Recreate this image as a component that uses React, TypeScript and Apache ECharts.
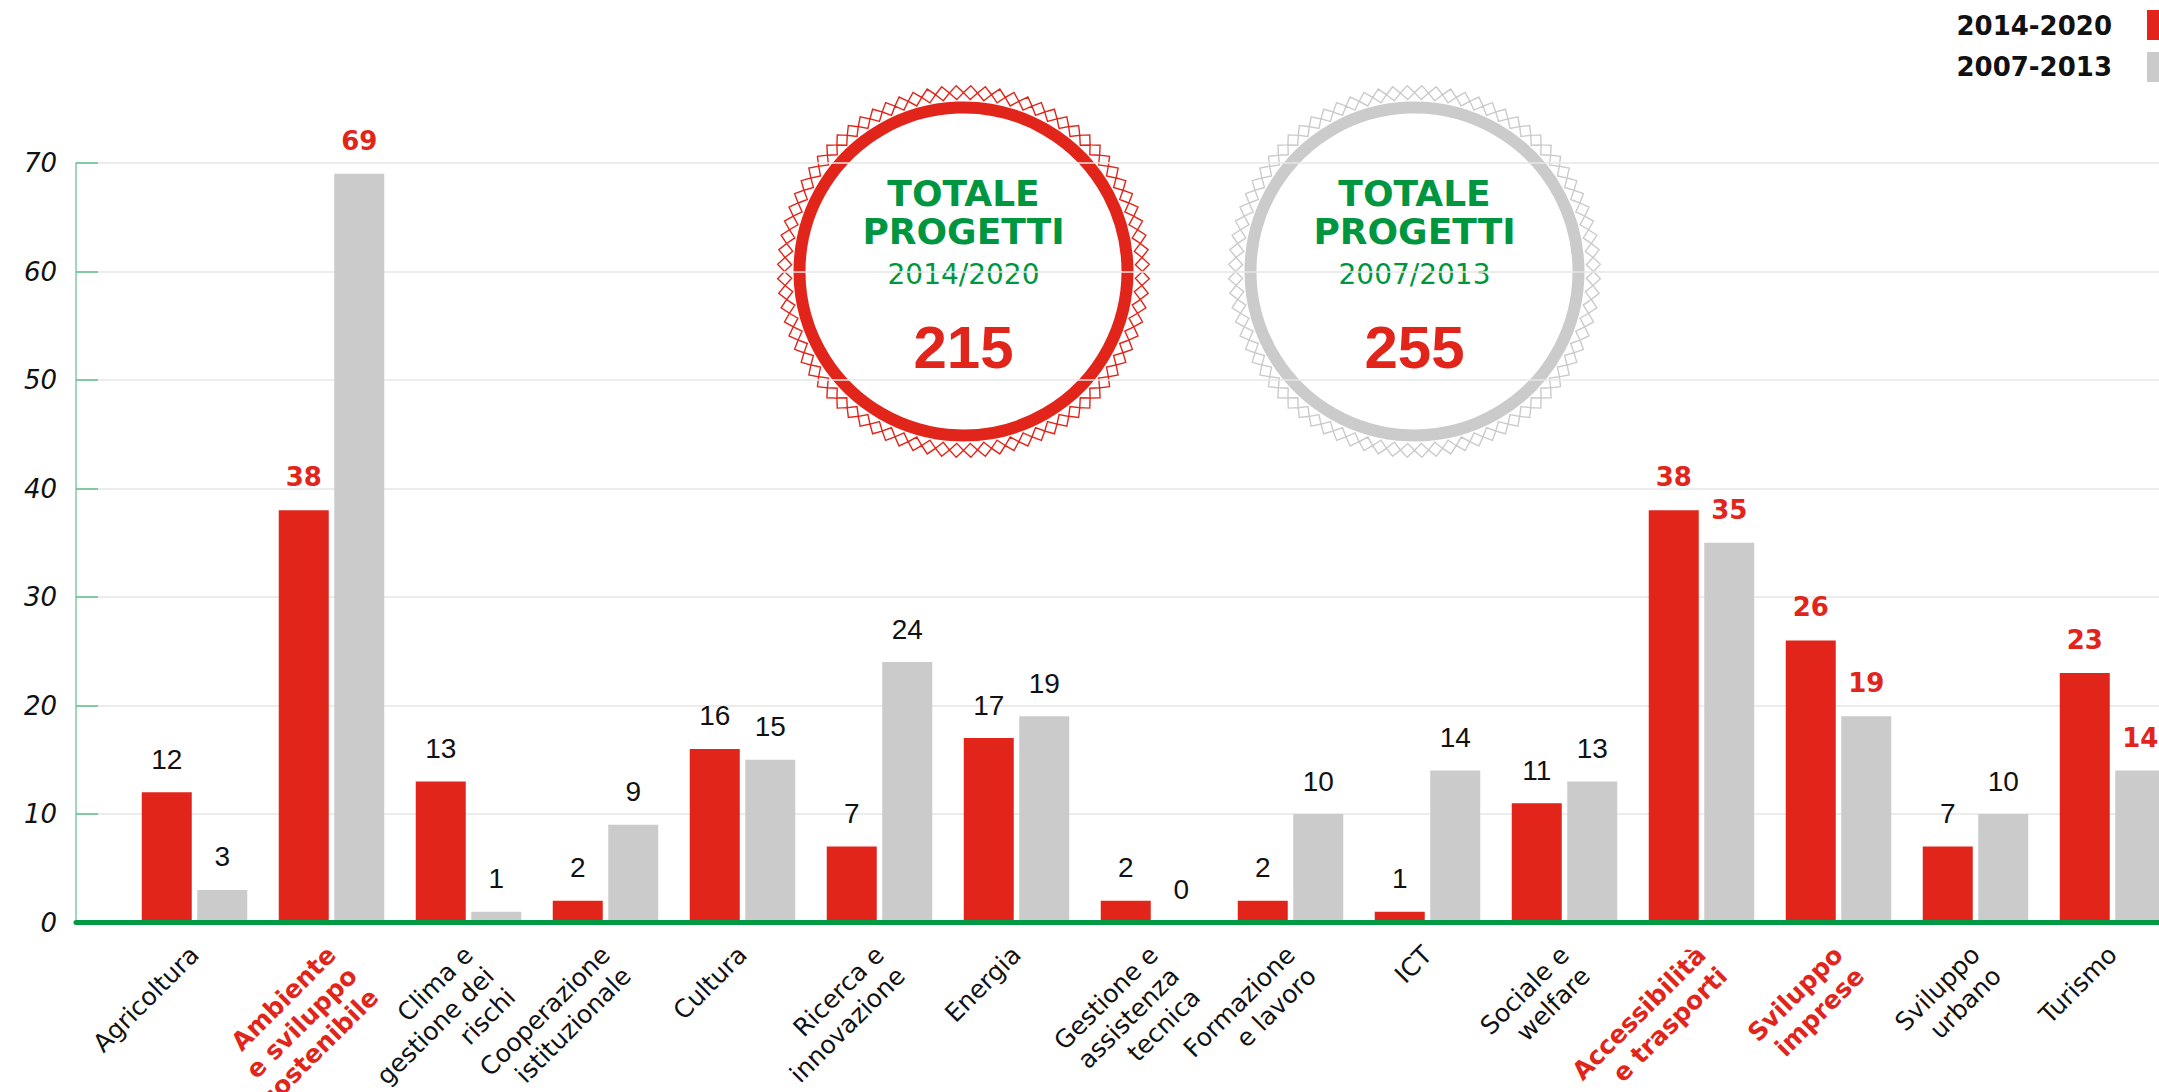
import React, { useEffect, useRef } from 'react';
import * as echarts from 'echarts';

const categories = [
  'Agricoltura',
  'Ambiente\ne sviluppo\nsostenibile',
  'Clima e\ngestione dei\nrischi',
  'Cooperazione\nistituzionale',
  'Cultura',
  'Ricerca e\ninnovazione',
  'Energia',
  'Gestione e\nassistenza\ntecnica',
  'Formazione\ne lavoro',
  'ICT',
  'Sociale e\nwelfare',
  'Accessibilità\ne trasporti',
  'Sviluppo\nimprese',
  'Sviluppo\nurbano',
  'Turismo',
];
const values2014 = [12, 38, 13, 2, 16, 7, 17, 2, 2, 1, 11, 38, 26, 7, 23];
const values2007 = [3, 69, 1, 9, 15, 24, 19, 0, 10, 14, 13, 35, 19, 10, 14];
const highlightedCategoryLabels = [false, true, false, false, false, false, false, false, false, false, false, true, true, false, false];
const highlightedValueLabels = [false, true, false, false, false, false, false, false, false, false, false, true, true, false, true];
const seriesNames = ['2014-2020', '2007-2013'];
const totalPeriods = ['2014/2020', '2007/2013'];
const totalValues = [215, 255];
const yMin = 0;
const yMax = 70;
const yInterval = 10;

const RED = '#e1251b';
const GRAY = '#cbcbcb';
const GREEN = '#009a44';
const TEXT_GREEN = '#00963f';

function zigzag(rMid: number, rEdge: number, n: number) {
  const pts: number[][] = [];
  for (let k = 0; k < n; k++) {
    const a0 = (2 * Math.PI * k) / n;
    const a1 = a0 + Math.PI / n;
    pts.push([rMid * Math.cos(a0), rMid * Math.sin(a0)]);
    pts.push([rEdge * Math.cos(a1), rEdge * Math.sin(a1)]);
  }
  return pts;
}

function badge(cx: number, cy: number, color: string, period: string, total: number) {
  return {
    type: 'group',
    x: cx,
    y: cy,
    z: 1,
    children: [
      { type: 'circle', shape: { cx: 0, cy: 0, r: 188 }, style: { fill: '#ffffff' } },
      { type: 'polygon', shape: { points: zigzag(179, 186, 80) }, style: { fill: 'none', stroke: color, lineWidth: 1.4 } },
      { type: 'polygon', shape: { points: zigzag(179, 172, 80) }, style: { fill: 'none', stroke: color, lineWidth: 1.4 } },
      { type: 'circle', shape: { cx: 0, cy: 0, r: 164 }, style: { fill: '#ffffff', stroke: color, lineWidth: 12 } },
      { type: 'text', x: 0, y: -78, style: { text: 'TOTALE', fill: TEXT_GREEN, fontFamily: 'DejaVu Sans', fontWeight: 'bold', fontSize: 36, align: 'center', verticalAlign: 'middle' } },
      { type: 'text', x: 0, y: -40, style: { text: 'PROGETTI', fill: TEXT_GREEN, fontFamily: 'DejaVu Sans', fontWeight: 'bold', fontSize: 36, align: 'center', verticalAlign: 'middle' } },
      { type: 'text', x: 0, y: 3, style: { text: period, fill: TEXT_GREEN, fontFamily: 'DejaVu Sans', fontSize: 28, align: 'center', verticalAlign: 'middle' } },
      { type: 'text', x: 0, y: 76, style: { text: String(total), fill: RED, fontFamily: 'Liberation Sans', fontWeight: 'bold', fontSize: 60, align: 'center', verticalAlign: 'middle' } },
    ],
  };
}

function legendItems() {
  const colors = [RED, GRAY];
  const out: any[] = [];
  seriesNames.forEach((name, i) => {
    out.push({
      type: 'text',
      x: 2112,
      y: 26 + i * 41,
      z: 3,
      style: { text: name, fill: '#111111', fontFamily: 'DejaVu Sans', fontWeight: 'bold', fontSize: 26, align: 'right', verticalAlign: 'middle' },
    });
    out.push({
      type: 'rect',
      x: 2147,
      y: 10 + i * 42,
      z: 3,
      shape: { x: 0, y: 0, width: 30, height: 30 },
      style: { fill: colors[i] },
    });
  });
  return out;
}

function barData(values: number[]) {
  return values.map((v, i) => ({
    value: v,
    label: highlightedValueLabels[i]
      ? { color: RED, fontFamily: 'DejaVu Sans', fontWeight: 'bold', fontSize: 26, distance: 20 }
      : { color: '#111111', fontFamily: 'Liberation Sans', fontWeight: 'normal', fontSize: 28, distance: 19 },
  }));
}

// rotated labels are centred on their middle line; leading blank lines put the first line there
function topAnchored(label: string) {
  const n = label.split('\n').length;
  return '\n'.repeat(n - 1) + label;
}

export default function App() {
  const ref = useRef<HTMLDivElement>(null);
  useEffect(() => {
    if (!ref.current) return;
    const chart = echarts.init(ref.current, null, { renderer: 'svg' });
    const plotTop = 163;
    const plotHeight = 759.5;
    chart.setOption({
      animation: false,
      backgroundColor: '#ffffff',
      grid: [
        { left: 126, top: plotTop, width: 2055, height: plotHeight, outerBoundsMode: 'none', containLabel: false },
        { left: 76, top: plotTop, width: 2200, height: plotHeight, outerBoundsMode: 'none', containLabel: false },
      ],
      xAxis: [
        {
          type: 'category',
          gridIndex: 0,
          data: categories.map((c, i) => ({
            value: c,
            textStyle: highlightedCategoryLabels[i] ? { color: RED, fontWeight: 'bold' } : { color: '#111111', fontWeight: 'normal' },
          })),
          axisLine: { show: false },
          axisTick: { show: false },
          axisLabel: {
            interval: 0,
            rotate: 45,
            margin: 28,
            align: 'right',
            padding: [50, 0, 0, 0],
            fontFamily: 'DejaVu Sans',
            fontSize: 25,
            lineHeight: 30,
            formatter: (v: string) => topAnchored(v),
          },
        },
        {
          type: 'value',
          gridIndex: 1,
          min: 0,
          max: 1,
          z: 5,
          axisLine: { show: true, lineStyle: { color: GREEN, width: 5 } },
          axisTick: { show: false },
          axisLabel: { show: false },
          splitLine: { show: false },
        },
      ],
      yAxis: [
        { type: 'value', gridIndex: 0, min: yMin, max: yMax, interval: yInterval, show: false },
        {
          type: 'value',
          gridIndex: 1,
          position: 'left',
          min: yMin,
          max: yMax,
          interval: yInterval,
          axisLine: { show: true, lineStyle: { color: '#7fcaa0', width: 1.5 } },
          axisTick: { show: false },
          axisLabel: {
            margin: 19,
            fontFamily: 'DejaVu Sans',
            fontStyle: 'italic',
            fontSize: 26,
            color: '#111111',
          },
          splitLine: { show: true, lineStyle: { color: '#e6e6e6', width: 1.5 } },
        },
        {
          type: 'value',
          gridIndex: 1,
          position: 'left',
          min: yMin,
          max: yMax,
          interval: yInterval,
          z: 2,
          axisLine: { show: false },
          axisLabel: { show: false },
          axisTick: { show: true, inside: true, length: 22, lineStyle: { color: '#5fbf88', width: 1.5 } },
          splitLine: { show: false },
        },
      ],
      series: [
        {
          name: seriesNames[0],
          type: 'bar',
          xAxisIndex: 0,
          yAxisIndex: 0,
          barWidth: 50,
          barGap: '11%',
          itemStyle: { color: RED },
          label: { show: true, position: 'top' },
          data: barData(values2014),
        },
        {
          name: seriesNames[1],
          type: 'bar',
          xAxisIndex: 0,
          yAxisIndex: 0,
          barWidth: 50,
          barGap: '11%',
          itemStyle: { color: GRAY },
          label: { show: true, position: 'top' },
          data: barData(values2007),
        },
      ],
      graphic: [
        badge(963.5, 271.5, RED, totalPeriods[0], totalValues[0]),
        badge(1414.5, 271.5, GRAY, totalPeriods[1], totalValues[1]),
        ...legendItems(),
      ],
    });
    return () => chart.dispose();
  }, []);
  return <div ref={ref} style={{ position: 'absolute', left: 0, top: 0, width: 2159, height: 1092 }} />;
}
